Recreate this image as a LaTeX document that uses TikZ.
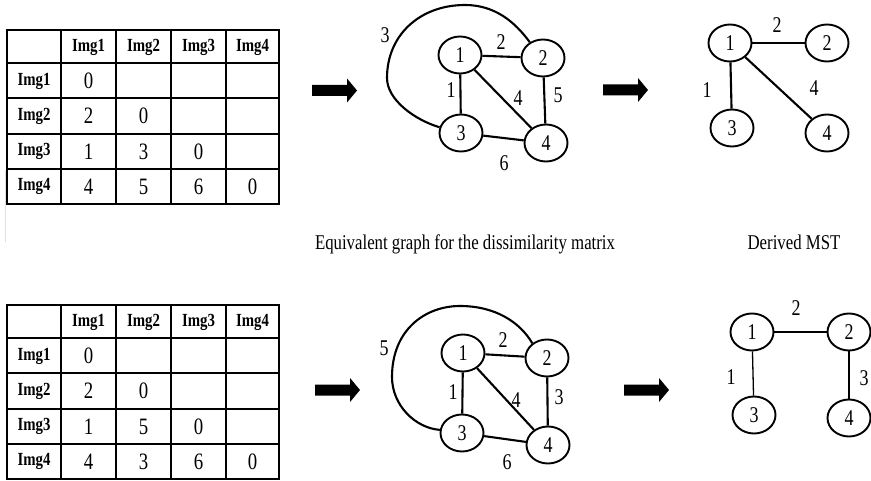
\documentclass[tikz,border=0pt]{standalone}
\usepackage{fontspec}
\setmainfont{Liberation Serif}
\usetikzlibrary{shapes.geometric}
\newcommand{\sq}[1]{\scalebox{0.8}[1]{#1}}
\begin{document}
\begin{tikzpicture}[x=1pt,y=-1pt,
  tbl/.style={line width=2pt},
  hdr/.style={font=\fontsize{18.5}{18.5}\selectfont\bfseries, inner sep=0pt},
  num/.style={font=\fontsize{23.5}{23.5}\selectfont, inner sep=0pt},
  vtx/.style={ellipse, draw, line width=1.9pt, minimum width=43pt, minimum height=37pt, inner sep=0pt, font=\fontsize{22.5}{22.5}\selectfont},
  edgeln/.style={line width=2.1pt},
  lbl/.style={font=\fontsize{22.5}{22.5}\selectfont, inner sep=0pt},
  captxt/.style={font=\fontsize{21}{21}\selectfont, inner sep=0pt, anchor=base},
  barrow/.pic={\fill (0,-5.5) -- (35,-5.5) -- (35,-12) -- (45,0) -- (35,12) -- (35,5.5) -- (0,5.5) -- cycle;}
]
\useasboundingbox (0,0) rectangle (871,481);

% ---------- tables ----------
\foreach \tb/\sy/\vals in {t1/30/{2/1/2,2/2/0,3/1/1,3/2/3,3/3/0,4/1/4,4/2/5,4/3/6,4/4/0},
                           t2/305/{2/1/2,2/2/0,3/1/1,3/2/5,3/3/0,4/1/4,4/2/3,4/3/6,4/4/0}}{
  \begin{scope}[shift={(7,\sy)}]
    \draw[tbl] (0,0) rectangle (272,174);
    \foreach \x in {54,109,164,219} \draw[tbl] (\x,0) -- (\x,174);
    \foreach \y in {33,68,104,139} \draw[tbl] (0,\y) -- (272,\y);
    \foreach \cx [count=\i] in {81.5,136.5,191.5,245.5}
      \node[hdr] (\tb-c\i) at (\cx,17) {\sq{Img\i}};
    \foreach \cy [count=\i] in {51,86,121.5,156.5}
      \node[hdr] (\tb-r\i) at (27,\cy) {\sq{Img\i}};
    \node[num] (\tb-v11) at (81.5,51) {\sq{0}};
    \foreach \r/\c/\v in \vals {
      \pgfmathsetmacro{\yy}{{51,86,121.5,156.5}[\r-1]}
      \pgfmathsetmacro{\xx}{{81.5,136.5,191.5,245.5}[\c-1]}
      \node[num] (\tb-v\r\c) at (\xx,\yy) {\sq{\v}};
    }
  \end{scope}
}
\draw[gray!25, line width=0.8pt] (5,170) -- (5,242);

% ---------- arrows ----------
\pic at (312,90.5) {barrow};
\pic at (603,90) {barrow};
\pic at (315,390) {barrow};
\pic at (624,390) {barrow};

% ---------- graph 1 ----------
\node[vtx] (g1a) at (460,55) {\sq{1}};
\node[vtx] (g1b) at (543,58) {\sq{2}};
\node[vtx] (g1c) at (461,133) {\sq{3}};
\node[vtx] (g1d) at (546,143) {\sq{4}};
\draw[edgeln] (g1a) -- (g1b);
\draw[edgeln] (g1a) -- (g1c);
\draw[edgeln] (g1a) -- (g1d);
\draw[edgeln] (g1b) -- (g1d);
\draw[edgeln] (g1c) -- (g1d);
\draw[edgeln] (g1c.165) .. controls (415,120) and (387,100) .. (387,78)
  .. controls (387,35) and (420,5) .. (465,5)
  .. controls (495,5) and (515,22) .. (g1b.130);
\node[lbl] (g1l3) at (385,35) {\sq{3}};
\node[lbl] (g1l2) at (501,42) {\sq{2}};
\node[lbl] (g1l1) at (451,90) {\sq{1}};
\node[lbl] (g1l4) at (518,98) {\sq{4}};
\node[lbl] (g1l5) at (558,95) {\sq{5}};
\node[lbl] (g1l6) at (504,163) {\sq{6}};

% ---------- MST 1 ----------
\node[vtx] (m1a) at (730,43) {\sq{1}};
\node[vtx] (m1b) at (827,43) {\sq{2}};
\node[vtx] (m1c) at (732,128) {\sq{3}};
\node[vtx] (m1d) at (827,133) {\sq{4}};
\draw[edgeln] (m1a) -- (m1b);
\draw[edgeln] (m1a) -- (m1c);
\draw[edgeln] (m1a) -- (m1d);
\node[lbl] (m1l2) at (777,25) {\sq{2}};
\node[lbl] (m1l1) at (707,90) {\sq{1}};
\node[lbl] (m1l4) at (814,88) {\sq{4}};

% ---------- captions ----------
\node[captxt] (cap1) at (465,250) {\sq{Equivalent graph for the dissimilarity matrix}};
\node[captxt] (cap2) at (794,250) {\sq{Derived MST}};

% ---------- graph 2 ----------
\node[vtx] (g2a) at (463,353) {\sq{1}};
\node[vtx] (g2b) at (547,358) {\sq{2}};
\node[vtx] (g2c) at (462,433) {\sq{3}};
\node[vtx] (g2d) at (548,445) {\sq{4}};
\draw[edgeln] (g2a) -- (g2b);
\draw[edgeln] (g2a) -- (g2c);
\draw[edgeln] (g2a) -- (g2d);
\draw[edgeln] (g2b) -- (g2d);
\draw[edgeln] (g2c) -- (g2d);
\draw[edgeln] (g2c.172) .. controls (415,428) and (392,405) .. (392,377)
  .. controls (392,330) and (425,306) .. (460,306)
  .. controls (495,306) and (520,322) .. (g2b.135);
\node[lbl] (g2l5) at (384,348) {\sq{5}};
\node[lbl] (g2l2) at (503,340) {\sq{2}};
\node[lbl] (g2l1) at (453,392) {\sq{1}};
\node[lbl] (g2l4) at (516,400) {\sq{4}};
\node[lbl] (g2l3) at (559,397) {\sq{3}};
\node[lbl] (g2l6) at (507,462) {\sq{6}};

% ---------- MST 2 ----------
\node[vtx] (m2a) at (752,332) {\sq{1}};
\node[vtx] (m2b) at (849,332) {\sq{2}};
\node[vtx] (m2c) at (754,415) {\sq{3}};
\node[vtx] (m2d) at (849,418) {\sq{4}};
\draw[line width=1.6pt] (m2a) -- (m2b);
\draw[line width=1.3pt] (m2a) -- (m2c);
\draw[edgeln] (m2b) -- (m2d);
\node[lbl] (m2l2) at (796,308) {\sq{2}};
\node[lbl] (m2l1) at (731,377) {\sq{1}};
\node[lbl] (m2l3) at (864,378) {\sq{3}};
\end{tikzpicture}
\end{document}
